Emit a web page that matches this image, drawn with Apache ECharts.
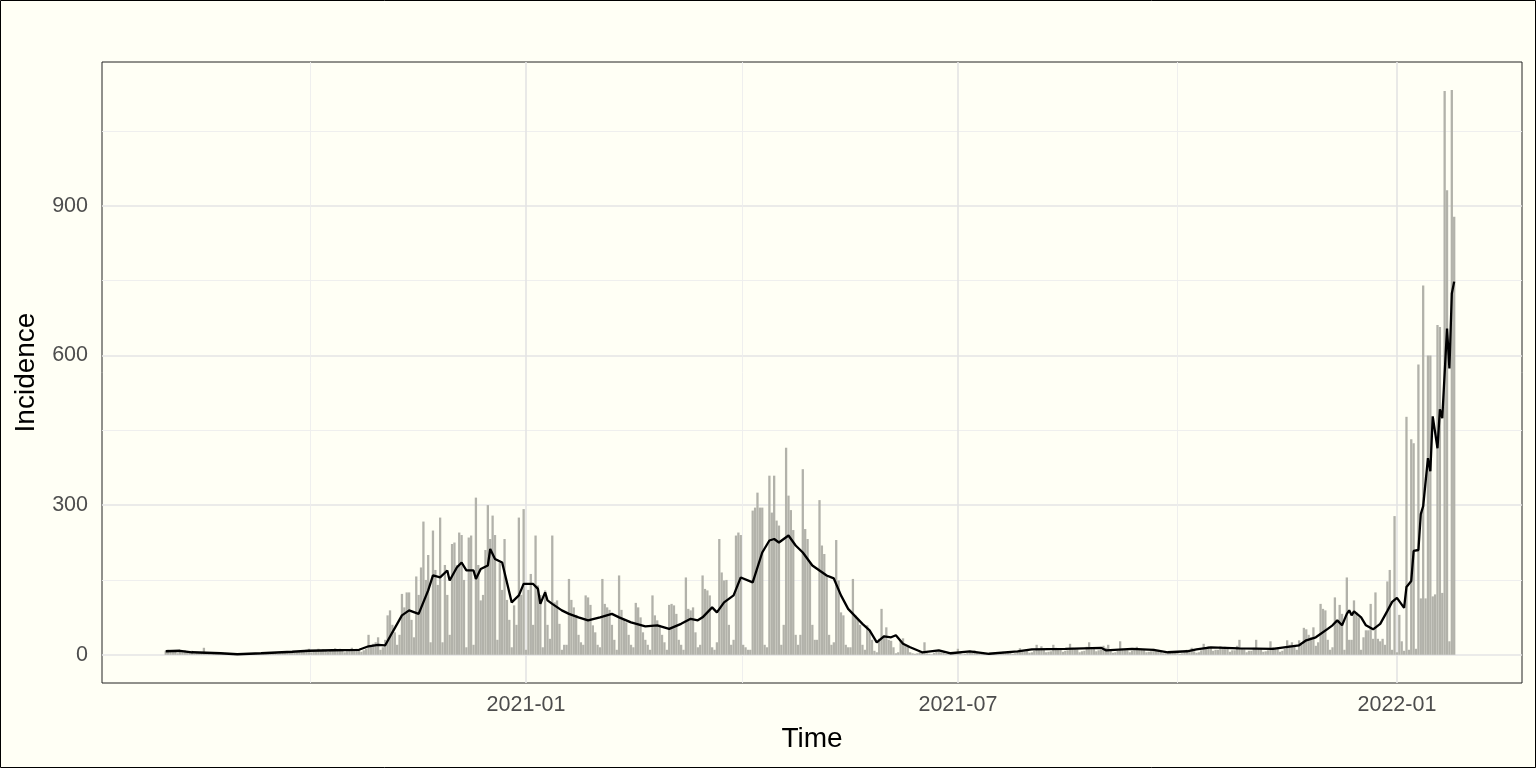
<!DOCTYPE html>
<html><head><meta charset="utf-8">
<script src="https://cdn.jsdelivr.net/npm/echarts@6/dist/echarts.min.js"></script>
<style>html,body{margin:0;padding:0;background:#FFFFF5;}#chart{width:1536px;height:768px;}</style>
</head><body><div id="chart"></div>
<script>
// ---- data ----
const startDate = '2020-08-03';   // first day of the daily series (Monday)
// daily incidence, one row per week (Mon..Sun)
const dailyIncidence = [
  8, 10, 6, 9, 7, 3, 5,
  6, 9, 7, 5, 8, 2, 3,
  3, 5, 14, 4, 3, 1, 2,
  2, 4, 3, 3, 2, 1, 1,
  1, 2, 2, 1, 1, 0, 1,
  2, 3, 2, 3, 2, 1, 2,
  3, 5, 4, 5, 4, 2, 3,
  4, 7, 6, 7, 6, 4, 5,
  6, 9, 8, 10, 12, 5, 8,
  7, 12, 9, 11, 8, 6, 9,
  8, 13, 10, 12, 9, 5, 7,
  8, 14, 11, 12, 10, 6, 9,
  12, 40, 18, 22, 25, 35, 10,
  15, 30, 79, 89, 60, 45, 20,
  40, 122, 95, 125, 125, 70, 35,
  157, 120, 175, 267, 150, 200, 25,
  249, 170, 140, 275, 25, 180, 120,
  40, 222, 225, 180, 245, 240, 150,
  15, 235, 239, 20, 315, 180, 109,
  120, 210, 300, 232, 279, 240, 30,
  185, 130, 232, 110, 70, 15, 99,
  60, 275, 120, 292, 10, 130, 162,
  60, 239, 139, 120, 15, 129, 60,
  32, 239, 105, 109, 62, 10, 20,
  20, 152, 110, 95, 80, 40, 25,
  20, 119, 115, 100, 59, 45, 20,
  15, 152, 102, 95, 90, 60, 30,
  10, 159, 90, 72, 65, 40, 20,
  15, 104, 95, 75, 45, 30, 20,
  10, 119, 79, 69, 60, 40, 25,
  10, 100, 102, 99, 82, 30, 20,
  10, 155, 92, 89, 95, 45, 15,
  20, 159, 132, 129, 119, 15, 10,
  25, 232, 165, 149, 150, 60, 20,
  30, 239, 245, 240, 20, 15, 10,
  10, 289, 295, 325, 295, 295, 20,
  15, 359, 285, 359, 269, 259, 20,
  60, 415, 319, 290, 250, 40, 20,
  40, 372, 252, 232, 185, 60, 30,
  30, 310, 219, 202, 159, 40, 20,
  25, 230, 149, 85, 79, 20, 15,
  15, 152, 79, 72, 60, 20, 10,
  59, 49, 30, 8, 5, 32, 92,
  39, 55, 30, 28, 15, 3, 5,
  29, 33, 20, 18, 5, 3, 2,
  3, 5, 4, 25, 3, 2, 1,
  4, 8, 6, 5, 7, 2, 3,
  2, 4, 3, 12, 3, 1, 2,
  5, 8, 7, 9, 6, 3, 2,
  2, 3, 2, 3, 2, 1, 1,
  3, 6, 5, 4, 5, 2, 3,
  6, 13, 8, 7, 9, 4, 5,
  8, 20, 12, 17, 10, 5, 6,
  7, 20, 14, 12, 11, 6, 8,
  9, 22, 14, 13, 11, 5, 7,
  8, 16, 25, 15, 12, 7, 9,
  10, 18, 14, 20, 10, 4, 5,
  8, 27, 12, 11, 10, 5, 8,
  9, 16, 13, 12, 10, 5, 6,
  7, 12, 9, 8, 7, 3, 3,
  3, 6, 5, 4, 5, 2, 3,
  5, 10, 8, 14, 7, 4, 5,
  9, 22, 15, 17, 14, 8, 10,
  10, 17, 14, 16, 12, 6, 9,
  9, 18, 30, 12, 11, 5, 8,
  8, 14, 30, 13, 11, 6, 7,
  9, 27, 15, 14, 12, 6, 8,
  12, 29, 20, 25, 18, 10, 29,
  20, 54, 51, 40, 35, 55, 18,
  25, 102, 92, 89, 30, 10, 15,
  115, 69, 100, 82, 10, 155, 30,
  30, 109, 85, 75, 10, 35, 49,
  49, 102, 32, 125, 32, 27, 32,
  20, 147, 170, 10, 278, 5, 80,
  27, 8, 477, 10, 432, 424, 12,
  582, 113, 740, 113, 600, 600, 117,
  121, 661, 657, 124, 1130, 931, 27,
  1132, 878
];
// smoothed (rolling) incidence line: day offset from startDate and value
const lineDay = [0,6,11,23,30,40,53,60,70,81,
  85,89,92,95,99,102,106,110,112,115,
  118,119,122,124,126,129,130,132,135,136,
  138,141,145,148,150,154,156,157,159,160,
  162,166,169,173,177,182,187,190,195,201,
  206,211,216,220,223,225,229,231,234,238,
  241,246,250,253,255,257,261,264,267,271,
  277,280,283,286,290,292,295,298,301,304,
  306,309,312,315,317,324,329,337,345,357,
  363,377,392,394,405,414,420,428,432,438,
  450,464,475,478,482,487,489,491,493,495,
  496,497,498,501,503,506,509,512,514,516,
  519,520,522,523,525,526,527,529,530,531,
  533,534,535,537,538,539,540];
const lineValue = [7,8,5,3,1,3,6,8,9,10,
  17,20,19,45,79,89,82,129,159,155,
  169,149,175,185,169,169,152,172,179,212,
  192,185,105,119,142,142,132,102,125,109,
  102,89,82,75,69,75,82,75,65,57,
  59,52,62,72,69,75,95,85,105,119,
  155,145,205,229,232,225,239,219,205,179,
  159,153,119,92,72,62,49,25,37,35,
  39,22,15,9,5,9,3,7,2,7,
  11,12,14,9,12,10,5,7,11,15,
  13,12,19,29,35,52,59,69,59,82,
  89,79,87,75,59,51,62,88,106,114,
  94,136,148,208,210,282,298,394,368,478,
  414,492,474,654,574,724,748];
const yTickValues = [0, 300, 600, 900];
const yMinorValues = [150, 450, 750, 1050];
const xTickDates = ['2021-01-01', '2021-07-01', '2022-01-01'];
const xTickLabels = ['2021-01', '2021-07', '2022-01'];
// minor breaks sit midway between major breaks (first one mirrored from the first gap)
const xMinorDates = ['2020-10-02', '2021-04-01', '2021-10-01'];
const xMinorHours = [12, 12, 0];
const xTitle = 'Time';
const yTitle = 'Incidence';

// ---- helpers (UTC day arithmetic: every day is exactly 24h) ----
function toTime(s, addDays, hours) {
  const p = s.split('-').map(Number);
  return Date.UTC(p[0], p[1] - 1, p[2] + (addDays || 0), hours || 0);
}
const barData = dailyIncidence.map((v, i) => [toTime(startDate, i), v]);
const lineData = lineDay.map((d, i) => [toTime(startDate, d), lineValue[i]]);
const xMin = toTime('2020-07-07', 0, 7);
const xMax = toTime('2022-02-22', 0, 10);
const yMin = -56.6, yMax = 1188.2;
const xMajor = xTickDates.map(s => toTime(s));
const xMinor = xMinorDates.map((s, i) => toTime(s, 0, xMinorHours[i]));

const FONT = '"Liberation Sans", Arial, Helvetica, sans-serif';
const chart = echarts.init(document.getElementById('chart'), null, {renderer: 'canvas'});
chart.setOption({
  animation: false,
  backgroundColor: '#FFFFF5',
  grid: {left: 102, right: 14, top: 62, bottom: 85, show: true, borderColor: '#222', borderWidth: 1,
         backgroundColor: 'transparent', containLabel: false, outerBoundsMode: 'none'},
  xAxis: [{
    type: 'value', min: xMin, max: xMax, gridIndex: 0, scale: true,
    name: xTitle, nameLocation: 'middle', nameGap: 42,
    nameTextStyle: {fontFamily: FONT, fontSize: 28, color: '#000'},
    axisLine: {show: false},
    axisTick: {show: false, customValues: xMajor},
    axisLabel: {customValues: xMajor, margin: 11, fontFamily: FONT, fontSize: 21.5, color: '#4D4D4D',
      formatter: function (v) { const i = xMajor.indexOf(v); return i >= 0 ? xTickLabels[i] : ''; }},
    splitLine: {show: true, lineStyle: {color: '#E4E4E4', width: 1.6}}
  }, {
    type: 'value', min: xMin, max: xMax, gridIndex: 0, position: 'bottom', scale: true,
    axisLine: {show: false}, axisLabel: {show: false},
    axisTick: {show: false, customValues: xMinor},
    splitLine: {show: true, lineStyle: {color: '#EDEDED', width: 0.9}}
  }],
  yAxis: [{
    type: 'value', min: yMin, max: yMax,
    name: yTitle, nameLocation: 'middle', nameGap: 62, nameRotate: 90,
    nameTextStyle: {fontFamily: FONT, fontSize: 28, color: '#000'},
    axisLine: {show: false},
    axisTick: {show: false, customValues: yTickValues},
    axisLabel: {customValues: yTickValues, margin: 14, fontFamily: FONT, fontSize: 21.5, color: '#4D4D4D'},
    splitLine: {show: true, lineStyle: {color: '#E4E4E4', width: 1.6}}
  }, {
    type: 'value', min: yMin, max: yMax, position: 'left',
    axisLine: {show: false}, axisLabel: {show: false},
    axisTick: {show: false, customValues: yMinorValues},
    splitLine: {show: true, lineStyle: {color: '#EDEDED', width: 0.9}}
  }],
  series: [{
    type: 'bar', name: 'Daily incidence', data: barData, xAxisIndex: 0, yAxisIndex: 0,
    barWidth: 2.3, barMinWidth: 2.3, itemStyle: {color: '#B2B2AA', borderWidth: 0}, z: 2, silent: true
  }, {
    type: 'line', name: 'Smoothed', data: lineData, xAxisIndex: 0, yAxisIndex: 0,
    showSymbol: false, symbol: 'none', lineStyle: {color: '#000', width: 2.3}, z: 3, silent: true
  }],
  graphic: [{
    type: 'rect', shape: {x: 0.5, y: 0.5, width: 1535, height: 767},
    style: {fill: 'none', stroke: '#000', lineWidth: 1}, silent: true, z: 10
  }]
});
</script></body></html>
